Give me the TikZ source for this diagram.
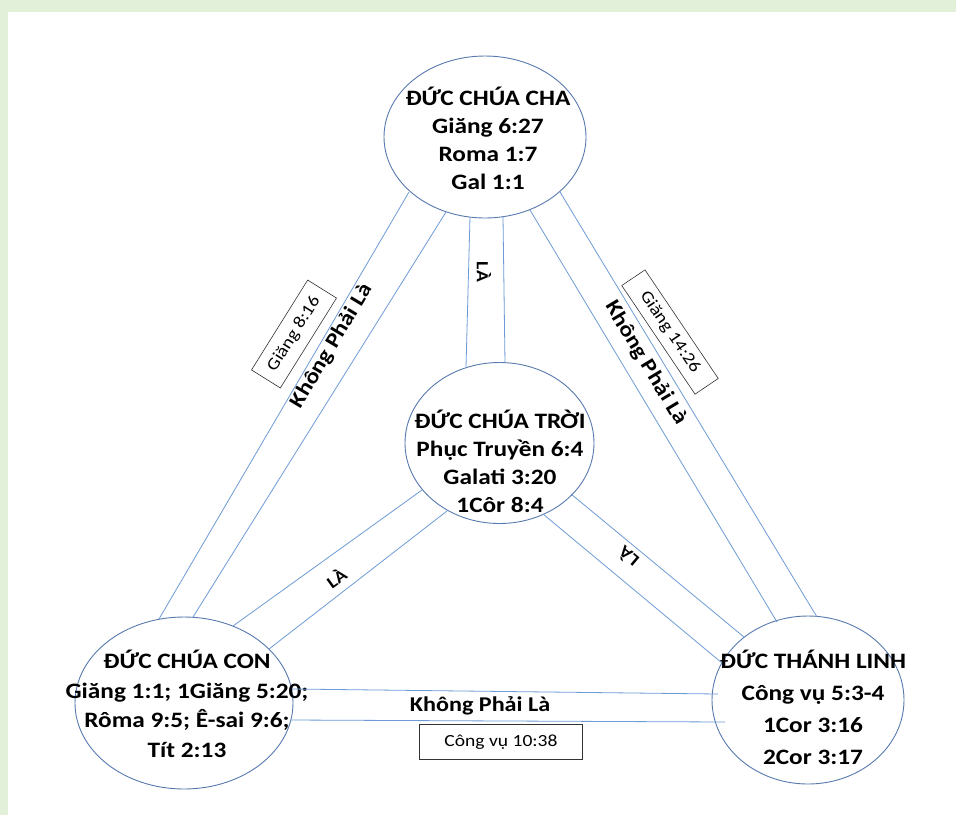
\documentclass[tikz,border=0pt]{standalone}
\usepackage{fontspec}
\setmainfont{Carlito}[FakeStretch=1.15]
\usetikzlibrary{shapes.geometric}
\definecolor{bggreen}{RGB}{226,239,217}
\definecolor{linecol}{RGB}{110,155,212}
\definecolor{ellcol}{RGB}{88,122,175}
\begin{document}
\begin{tikzpicture}[x=1pt,y=-1pt,
  ell/.style={ellipse, draw=ellcol, line width=0.9pt, inner sep=0pt},
  conn/.style={draw=linecol, line width=0.8pt},
  title/.style={font=\bfseries\fontsize{22}{28}\selectfont, align=center, inner sep=0pt},
  refbox/.style={draw=black!80, line width=0.6pt, fill=white, font=\fontsize{17}{19}\selectfont, inner sep=0pt},
  labb/.style={font=\bfseries\fontsize{21}{24}\selectfont, inner sep=1pt},
  lalab/.style={font=\bfseries\fontsize{17}{19}\selectfont, inner sep=1pt}
]
\useasboundingbox (0,0) rectangle (956,815);
\fill[bggreen] (0,0) rectangle (956,815);
\fill[white] (8,12) rectangle (956,815);

% ellipses
\node[ell, minimum width=202pt, minimum height=162pt] (cha) at (485,137) {};
\node[ell, minimum width=189pt, minimum height=161pt] (troi) at (499.5,443) {};
\node[ell, minimum width=218pt, minimum height=172pt] (con) at (184,703) {};
\node[ell, minimum width=192pt, minimum height=168pt] (thanh) at (808,700) {};

% texts
\node[title] (chat) at (488,138) {ĐỨC CHÚA CHA\\Giăng 6:27\\Roma 1:7\\Gal 1:1};
\node[title] (troit) at (500,461) {ĐỨC CHÚA TRỜI\\Phục Truyền 6:4\\Galati 3:20\\1Côr 8:4};
\node[title, font=\bfseries\fontsize{22}{29.5}\selectfont] (cont) at (187,704) {ĐỨC CHÚA CON\\Giăng 1:1; 1Giăng 5:20;\\Rôma 9:5; Ê-sai 9:6;\\Tít 2:13};
\node[title, font=\bfseries\fontsize{22}{32}\selectfont] (thanht) at (813,707) {ĐỨC THÁNH LINH\\Công vụ 5:3-4\\1Cor 3:16\\2Cor 3:17};

% connector end points
\coordinate (a1) at (409,192); \coordinate (a2) at (159,619);
\coordinate (b1) at (446,212); \coordinate (b2) at (193,617);
\coordinate (c1) at (470,217); \coordinate (c2) at (466,367);
\coordinate (d1) at (503,217); \coordinate (d2) at (505,363);
\coordinate (e1) at (560,192); \coordinate (e2) at (817,617);
\coordinate (f1) at (530,210); \coordinate (f2) at (777,622);
\coordinate (g1) at (571,494); \coordinate (g2) at (744,637);
\coordinate (h1) at (543,514); \coordinate (h2) at (722,663);
\coordinate (i1) at (422,490); \coordinate (i2) at (233,626);
\coordinate (j1) at (447,511); \coordinate (j2) at (269,649);
\coordinate (k1) at (292,689); \coordinate (k2) at (718,694);
\coordinate (l1) at (291,720); \coordinate (l2) at (725,722);

\draw[conn] (a1) -- (a2);
\draw[conn] (b1) -- (b2);
\draw[conn] (c1) -- (c2);
\draw[conn] (d1) -- (d2);
\draw[conn] (e1) -- (e2);
\draw[conn] (f1) -- (f2);
\draw[conn] (g1) -- (g2);
\draw[conn] (h1) -- (h2);
\draw[conn] (i1) -- (i2);
\draw[conn] (j1) -- (j2);
\draw[conn] (k1) -- (k2);
\draw[conn] (l1) -- (l2);

% labels
\node[labb, rotate=59] (kpl1) at (332,346) {Không Phải Là};
\node[labb, rotate=-59] (kpl2) at (646,363) {Không Phải Là};
\node[labb] (kpl3) at (480,706) {Không Phải Là};
\node[lalab, rotate=-90] (la1) at (484,272) {LÀ};
\node[lalab, rotate=36] (la2) at (336,578) {LÀ};
\node[lalab, rotate=140, fill=white] (la3) at (628,557) {LÀ};

\node[refbox, rotate=58, minimum width=106pt, minimum height=34pt] (r1) at (294,334) {Giăng 8:16};
\node[refbox, rotate=-56, minimum width=131pt, minimum height=28pt] (r2) at (670,332) {Giăng 14:26};
\node[refbox, minimum width=163pt, minimum height=35pt] (r3) at (501,742) {Công vụ 10:38};
\end{tikzpicture}
\end{document}
